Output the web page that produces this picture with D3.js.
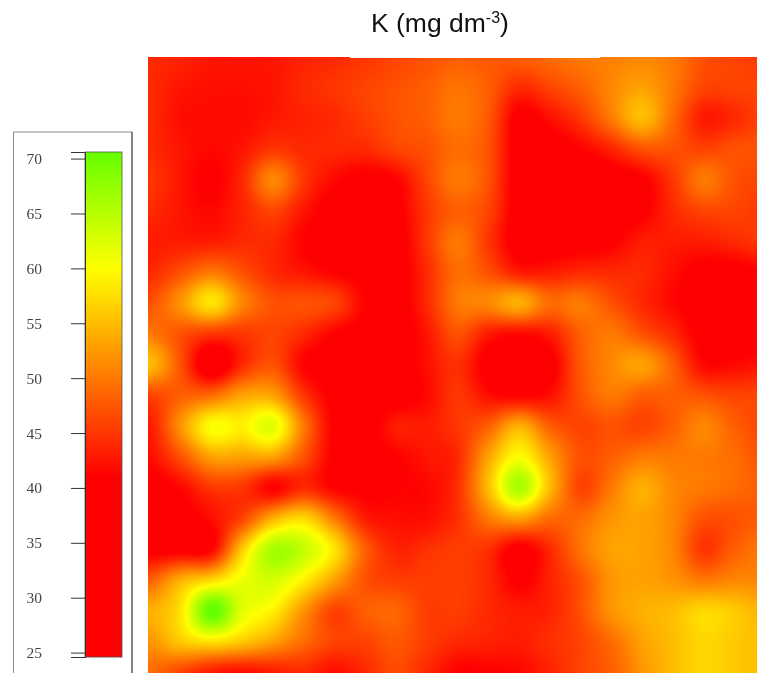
<!DOCTYPE html>
<html><head><meta charset="utf-8">
<script src="https://cdn.jsdelivr.net/npm/d3@7"></script>
<style>html,body{margin:0;padding:0;background:#fff;overflow:hidden}
#wrap{position:relative;width:757px;height:673px}
canvas,svg{position:absolute;left:0;top:0}</style></head>
<body><div id="wrap"></div>
<script>
const titleMain = "K (mg dm";
const titleSup = "-3";
const legendTicks = [25,30,35,40,45,50,55,60,65,70];
const row0  = [44,43.5,42.5,42.5,42.5,43.5,44,45,46,47,48,47.5,48,49,50,50.5,51,50,47,46,45];
const row1  = [44,42.5,42,42,42.5,44,45,46,47,48,49.5,48,44,46,48,51,53,50,46,46,46];
const row2  = [44,42,41.7,41.7,42.7,43.5,44,45.5,47,48,50,47.5,40,42,45,50,55,49,43,44,46];
const row3  = [44,42.5,41.5,42.5,45,44,44,44,46,47,49,47,39.5,39.5,41,43.5,47,47,46,47,47];
const row4  = [45,42.5,40.5,44,51,45,41.5,40,41,46,50,47,39.5,39,39,39.5,40.5,45,50,47,46];
const row5  = [44,42.5,41.5,43.5,46,42.5,39.5,39,40,45,48,46,39.5,39,39,39.5,40.5,44,46,46,45];
const row6  = [43,43,43,44,44,41,39,39,39.5,45,50,45,39.5,39.5,40,40.7,43,43,43,44,45];
const row7  = [44,47,50,47,44,42.5,41,40,39.5,44,49,47,43,43,44,44,44,42,40,40,41];
const row8  = [47,52,58,51,47,47,46,41,39.5,44,50,51,54,49,50,47,44,41.5,39.5,39,39.5];
const row9  = [50,47,45,45,46,44,41,40,39.5,42.5,47,43,41.5,43,48,50,47,44,40,39.5,40];
const row10 = [55,47,38,44,47,41,39.5,39,39.5,42,44.5,40,39,40,47.5,51,53,48,41.5,41.5,42.5];
const row11 = [46,48,49,53,53,45,40,39,39.5,41.5,45,42,41,42,47,50,48,48,47,46,46];
const row12 = [43,52,60,59,62,50,40.5,39.5,43,43,45,48,54,48,46,47,46,48,51,48,46];
const row13 = [42,47,53,53,53,47,40.5,40,41,42.5,44,53,60,53,47,48,50,50,50,49,47];
const row14 = [39.5,41.5,45,45,41,44,41,40.5,41,41.5,44.5,55,66,55,46,50,54,51,50,49,48];
const row15 = [39.5,40,42,46,54,57,50,43,42,42,44.5,50,53,49,49,52,53,51,47,47,48];
const row16 = [40,40,41,56,66,64,58,48,43.5,44.5,45.5,44.5,40,44,49.5,53,53,51,45,48,50];
const row17 = [48,54,57,61,63,59,53,47,45.5,45.5,45.5,44,40.5,43.5,47,52,53,52,50,51,51];
const row18 = [54,58,71,62,59,52,46,48,48.5,45.5,45.5,44,43,43.5,47,52,54,55,57,56,54];
const row19 = [52,56,58,56,53,49,46,46,47.5,45.5,44,43.5,43,44.5,46,49,53,55,57,56,55];
const row20 = [49,46,43,42,43,44,42,44,46.5,44,41,41,41.5,43.5,46,48,52,55,57,56,55];
const values = [row0,row1,row2,row3,row4,row5,row6,row7,row8,row9,row10,row11,row12,row13,row14,row15,row16,row17,row18,row19,row20];
const colorStops = [24.6,41,60,70.6];
const colorRange = ["#ff0000","#ff0000","#ffff00","#66ff00"];

const W=757,H=673;
const x = d3.scaleLinear().domain([0,20]).range([150,765]);
const y = d3.scaleLinear().domain([0,20]).range([57,672]);
const color = d3.scaleLinear().domain(colorStops).range(colorRange).clamp(true);
const wrap = d3.select("#wrap");

const plot = {x0:148,y0:57,x1:757,y1:673};
const canvas = wrap.append("canvas").attr("width",W).attr("height",H).node();
const ctx = canvas.getContext("2d");
const img = ctx.createImageData(plot.x1-plot.x0,plot.y1-plot.y0);
function cr(a,b,c,d,t){return 0.5*((2*b)+(-a+c)*t+(2*a-5*b+4*c-d)*t*t+(-a+3*b-3*c+d)*t*t*t);}
const nR=values.length,nC=values[0].length;
const at=(r,c)=>values[Math.max(0,Math.min(nR-1,r))][Math.max(0,Math.min(nC-1,c))];
function field(u,v){
  const c=Math.floor(u),r=Math.floor(v),tu=u-c,tv=v-r;
  const rows=[-1,0,1,2].map(dr=>cr(at(r+dr,c-1),at(r+dr,c),at(r+dr,c+1),at(r+dr,c+2),tu));
  return cr(rows[0],rows[1],rows[2],rows[3],tv);
}
let i=0;
for(let py=plot.y0;py<plot.y1;py++){
  for(let px=plot.x0;px<plot.x1;px++){
    const c=d3.rgb(color(field(x.invert(px+.5),y.invert(py+.5))));
    img.data[i++]=c.r;img.data[i++]=c.g;img.data[i++]=c.b;img.data[i++]=255;
  }
}
ctx.putImageData(img,plot.x0,plot.y0);

const svg = wrap.append("svg").attr("width",W).attr("height",H);

svg.append("rect").attr("x",350).attr("y",57).attr("width",250).attr("height",1).attr("fill","#fff");

const t = svg.append("text").attr("x",371).attr("y",32)
  .attr("font-family","'Liberation Sans',Arial,sans-serif").attr("font-size",26.5).attr("fill","#111");
t.append("tspan").text(titleMain);
t.append("tspan").attr("font-size",16).attr("dy",-9).text(titleSup);
t.append("tspan").attr("dy",9).text(")");

svg.append("rect").attr("x",13.5).attr("y",132).attr("width",118.5).attr("height",560)
  .attr("fill","#fff").attr("stroke","#8a8a8a").attr("stroke-width",1);
svg.append("line").attr("x1",132).attr("x2",132).attr("y1",132).attr("y2",673).attr("stroke","#555").attr("stroke-width",1.2);

const legendY = d3.scaleLinear().domain([24.6,70.6]).range([657,152]);
const barVals = d3.range(657,152,-1).map(p=>legendY.invert(p-.5));
svg.append("g").selectAll("rect").data(barVals).join("rect")
  .attr("x",85).attr("width",37).attr("y",d=>legendY(d)-.5).attr("height",1.2)
  .attr("fill",d=>color(d));
svg.append("rect").attr("x",85).attr("y",152).attr("width",37).attr("height",505)
  .attr("fill","none").attr("stroke","#555").attr("stroke-width",.8);

const axis = d3.axisLeft(legendY).tickValues(legendTicks).tickSize(14).tickPadding(29).tickSizeOuter(14);
const ag = svg.append("g").attr("transform","translate(85,0)").call(axis);
ag.select(".domain").attr("stroke","#333");
ag.selectAll(".tick line").attr("stroke","#333");
ag.selectAll("text").attr("font-family","'Liberation Serif',serif").attr("font-size",15.5).attr("fill","#444");
</script></body></html>
